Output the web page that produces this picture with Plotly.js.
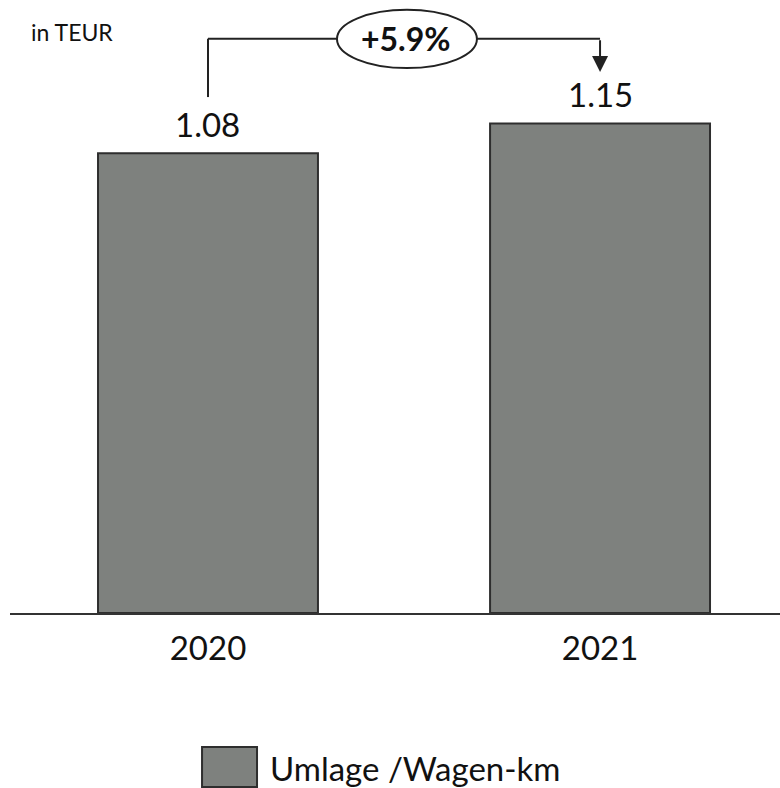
<!DOCTYPE html>
<html>
<head>
<meta charset="utf-8">
<script src="https://cdn.plot.ly/plotly-3.0.1.min.js"></script>
<style>html,body{margin:0;padding:0;background:#fff;}#chart{width:780px;height:788px;}</style>
</head>
<body>
<div id="chart"></div>
<script>
// ---- data ----
const categories = ['2020', '2021'];
const values = [1.08, 1.15];
const seriesName = 'Umlage /Wagen-km';
const unitLabel = 'in TEUR';
const changeLabel = '+5.9%';

// ---- style ----
const FONT = 'Lato, "Noto Sans", sans-serif';
const BAR_FILL = '#7e817e';
const BAR_EDGE = '#2e2e2e';
const TOP = 1.44;
const connY = 1.349;          // level of the connector line
const ellipseX = [0.329, 0.686];
const ellipseY = [1.280, 1.417];

const trace = {
  type: 'bar',
  x: categories,
  y: values,
  name: seriesName,
  width: 0.561,
  marker: {color: BAR_FILL, line: {color: BAR_EDGE, width: 2}},
  hoverinfo: 'x+y',
  showlegend: false
};

const annotations = values.map((v, i) => ({
  x: i, y: v, xref: 'x', yref: 'y',
  text: v.toFixed(2), showarrow: false,
  xanchor: 'center', yanchor: 'bottom', yshift: 7,
  font: {family: FONT, size: 33, color: '#111'}
}));

annotations.push({
  x: 0.505, y: connY, xref: 'x', yref: 'y',
  text: '<b>' + changeLabel + '</b>', showarrow: false,
  xanchor: 'center', yanchor: 'middle',
  font: {family: FONT, size: 32, color: '#111'}
});

// arrow down onto 2021
annotations.push({
  x: 1, y: values[1] + 0.121, xref: 'x', yref: 'y',
  ax: 1, ay: connY, axref: 'x', ayref: 'y',
  text: '', showarrow: true, arrowhead: 2, arrowsize: 1.6, arrowwidth: 2, arrowcolor: '#222'
});

annotations.push({
  x: 0.0247, y: 0.947, xref: 'paper', yref: 'paper',
  text: unitLabel, showarrow: false, xanchor: 'left', yanchor: 'middle',
  font: {family: FONT, size: 23, color: '#111'}
});

annotations.push({
  x: 0.335, y: -0.253, xref: 'paper', yref: 'paper',
  text: seriesName, showarrow: false, xanchor: 'left', yanchor: 'middle',
  font: {family: FONT, size: 33, color: '#111'}
});

const shapes = [
  // left vertical of connector
  {type: 'line', xref: 'x', yref: 'y', x0: 0, x1: 0, y0: values[0] + 0.132, y1: connY,
   line: {color: '#222', width: 2}},
  // left horizontal
  {type: 'line', xref: 'x', yref: 'y', x0: 0, x1: ellipseX[0], y0: connY, y1: connY,
   line: {color: '#222', width: 2}},
  // right horizontal
  {type: 'line', xref: 'x', yref: 'y', x0: ellipseX[1], x1: 1, y0: connY, y1: connY,
   line: {color: '#222', width: 2}},
  // ellipse
  {type: 'circle', xref: 'x', yref: 'y', x0: ellipseX[0], x1: ellipseX[1], y0: ellipseY[0], y1: ellipseY[1],
   line: {color: '#222', width: 2}, fillcolor: '#fff'},
  // legend swatch
  {type: 'rect', xref: 'paper', yref: 'paper', x0: 0.2494, x1: 0.3208, y0: -0.2838, y1: -0.2185,
   line: {color: BAR_EDGE, width: 2}, fillcolor: BAR_FILL}
];

const layout = {
  width: 780, height: 788,
  margin: {l: 10, r: 0, t: 0, b: 175},
  paper_bgcolor: '#fff', plot_bgcolor: '#fff',
  showlegend: false,
  xaxis: {
    type: 'category', range: [-0.505, 1.459],
    showline: true, linecolor: '#333', linewidth: 2,
    ticks: '', showgrid: false, zeroline: false,
    tickfont: {family: FONT, size: 33, color: '#111'},
    ticklabelstandoff: 5, fixedrange: true
  },
  yaxis: {range: [0, TOP], visible: false, showgrid: false, zeroline: false, fixedrange: true},
  shapes: shapes,
  annotations: annotations
};

Plotly.newPlot('chart', [trace], layout, {displayModeBar: false, staticPlot: true});
</script>
</body>
</html>
